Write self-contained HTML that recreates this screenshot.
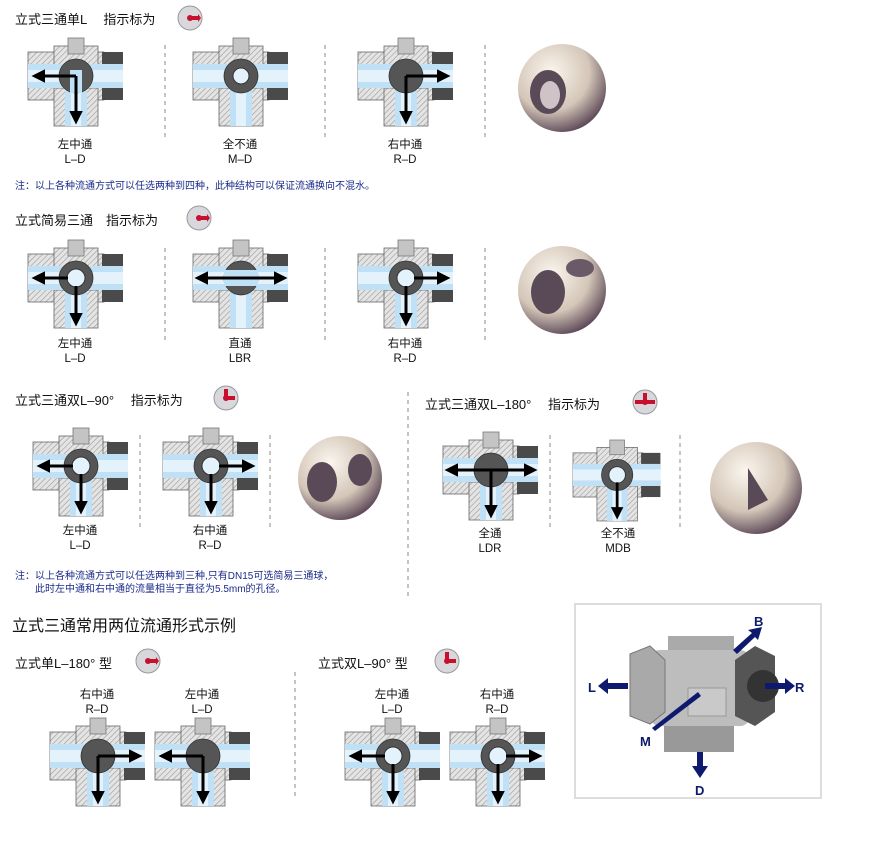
<!DOCTYPE html>
<html><head><meta charset="utf-8"><style>
body{margin:0;background:#fff;width:890px;height:858px;position:relative;overflow:hidden;font-family:"Liberation Sans","Noto Sans CJK SC",sans-serif;color:#111}
.t{position:absolute;white-space:nowrap}
.h{font-size:13px}
.lb{font-size:11.5px;text-align:center;line-height:15px;width:80px}
.n{font-size:10px;color:#1a2a8a;line-height:13px}
svg{position:absolute;left:0;top:0}
</style></head><body>
<svg width="890" height="858" viewBox="0 0 890 858">
<defs>
<pattern id="hp" width="4" height="4" patternUnits="userSpaceOnUse" patternTransform="rotate(45)"><rect width="4" height="4" fill="#e4e4e4"/><line x1="0" y1="0" x2="0" y2="4" stroke="#999" stroke-width="1.2"/></pattern>
<marker id="a" markerWidth="4.5" markerHeight="4.5" refX="3" refY="2.25" orient="auto-start-reverse" markerUnits="strokeWidth"><path d="M0,0 L4.5,2.25 L0,4.5z" fill="#000"/></marker>
<radialGradient id="sp" cx="0.38" cy="0.32" r="0.72"><stop offset="0" stop-color="#fbf6ee"/><stop offset="0.6" stop-color="#d4c6b8"/><stop offset="1" stop-color="#5a4656"/></radialGradient>
<g id="v">
<rect x="0" y="14" width="40" height="48" fill="url(#hp)" stroke="#666" stroke-width="0.8"/>
<rect x="56" y="14" width="20" height="48" fill="url(#hp)" stroke="#666" stroke-width="0.8"/>
<rect x="74" y="14" width="21" height="48" fill="#4a4a4a"/>
<rect x="26" y="8" width="44" height="24" fill="url(#hp)" stroke="#666" stroke-width="0.8"/>
<rect x="26" y="50" width="44" height="38" fill="url(#hp)" stroke="#666" stroke-width="0.8"/>
<rect x="0" y="26" width="95" height="24" fill="#bfe0f5"/>
<rect x="0" y="32" width="95" height="12" fill="#e3f2fb"/>
<rect x="37" y="50" width="22" height="38" fill="#bfe0f5"/>
<rect x="43" y="50" width="10" height="38" fill="#e3f2fb"/>
<rect x="40" y="0" width="16" height="16" fill="#c4c4c4" stroke="#777" stroke-width="0.8"/>
<circle cx="48" cy="38" r="17" fill="#555" stroke="#333" stroke-width="0.8"/>
</g>
<g id="ic"><circle r="12" fill="#d8d8dc" stroke="#999"/></g>
</defs>
<g fill="none" stroke="#000" stroke-width="3" marker-end="url(#a)">
<g transform="translate(28,38)"><use href="#v" stroke="none"/><path d="M42,32 H54 V55 H42z" fill="#bfe0f5" stroke="none" marker-end="none"/><path d="M48,38 H8"/><path d="M48,38 V82"/></g>
<g transform="translate(193,38)"><use href="#v" stroke="none"/><circle cx="48" cy="38" r="8" fill="#e3f2fb" stroke="#333" stroke-width="1" marker-end="none"/></g>
<g transform="translate(358,38)"><use href="#v" stroke="none"/><path d="M48,38 H88"/><path d="M48,38 V82"/></g>
<g transform="translate(28,240)"><use href="#v" stroke="none"/><circle cx="48" cy="38" r="9" fill="#e3f2fb" stroke="#333" stroke-width="1" marker-end="none"/><path d="M40,38 H8"/><path d="M48,46 V82"/></g>
<g transform="translate(193,240)"><use href="#v" stroke="none"/><rect x="31" y="30" width="34" height="16" fill="#bfe0f5" stroke="none" marker-end="none"/><path d="M48,38 H90"/><path d="M48,38 H6"/></g>
<g transform="translate(358,240)"><use href="#v" stroke="none"/><circle cx="48" cy="38" r="9" fill="#e3f2fb" stroke="#333" stroke-width="1" marker-end="none"/><path d="M56,38 H88"/><path d="M48,46 V82"/></g>
<g transform="translate(33,428)"><use href="#v" stroke="none"/><circle cx="48" cy="38" r="9" fill="#e3f2fb" stroke="#333" stroke-width="1" marker-end="none"/><path d="M40,38 H8"/><path d="M48,46 V82"/></g>
<g transform="translate(163,428)"><use href="#v" stroke="none"/><circle cx="48" cy="38" r="9" fill="#e3f2fb" stroke="#333" stroke-width="1" marker-end="none"/><path d="M56,38 H88"/><path d="M48,46 V82"/></g>
<g transform="translate(443,432)"><use href="#v" stroke="none"/><path d="M48,38 H90"/><path d="M48,38 H6"/><path d="M48,38 V82"/></g>
<g transform="translate(573,440) scale(0.92)"><use href="#v" stroke="none"/><circle cx="48" cy="38" r="9" fill="#e3f2fb" stroke="#333" stroke-width="1" marker-end="none"/><path d="M48,46 V82"/></g>
<g transform="translate(50,718)"><use href="#v" stroke="none"/><path d="M48,38 H88"/><path d="M48,38 V82"/></g>
<g transform="translate(155,718)"><use href="#v" stroke="none"/><path d="M48,38 H8"/><path d="M48,38 V82"/></g>
<g transform="translate(345,718)"><use href="#v" stroke="none"/><circle cx="48" cy="38" r="9" fill="#e3f2fb" stroke="#333" stroke-width="1" marker-end="none"/><path d="M40,38 H8"/><path d="M48,46 V82"/></g>
<g transform="translate(450,718)"><use href="#v" stroke="none"/><circle cx="48" cy="38" r="9" fill="#e3f2fb" stroke="#333" stroke-width="1" marker-end="none"/><path d="M56,38 H88"/><path d="M48,46 V82"/></g>
</g>
<g><circle cx="562" cy="88" r="44" fill="url(#sp)"/><ellipse cx="548" cy="92" rx="18" ry="22" fill="#5a4a58"/><ellipse cx="550" cy="95" rx="10" ry="14" fill="#cfc3c8"/>
<circle cx="562" cy="290" r="44" fill="url(#sp)"/><ellipse cx="548" cy="292" rx="17" ry="22" fill="#5a4a58"/><ellipse cx="580" cy="268" rx="14" ry="9" fill="#6a5a68"/>
<circle cx="340" cy="478" r="42" fill="url(#sp)"/><ellipse cx="322" cy="482" rx="15" ry="20" fill="#5a4a58"/><ellipse cx="360" cy="470" rx="12" ry="16" fill="#5a4a58"/>
<circle cx="756" cy="488" r="46" fill="url(#sp)"/><path d="M748,468 L768,500 L748,510 Z" fill="#5a4a58"/></g>
<g stroke="#888" stroke-width="1" stroke-dasharray="4,4">
<line x1="165" y1="45" x2="165" y2="140"/><line x1="325" y1="45" x2="325" y2="140"/><line x1="485" y1="45" x2="485" y2="140"/>
<line x1="165" y1="248" x2="165" y2="340"/><line x1="325" y1="248" x2="325" y2="340"/><line x1="485" y1="248" x2="485" y2="340"/>
<line x1="140" y1="435" x2="140" y2="530"/><line x1="270" y1="435" x2="270" y2="530"/>
<line x1="408" y1="392" x2="408" y2="600"/>
<line x1="550" y1="435" x2="550" y2="530"/><line x1="680" y1="435" x2="680" y2="530"/>
<line x1="295" y1="672" x2="295" y2="800"/>
</g>
<g fill="#c8102e">
<g transform="translate(190,18)"><use href="#ic"/><circle r="3"/><path d="M-1,-2 H8 V2 H-1z M8,-4 L11,0 L8,4z"/></g>
<g transform="translate(199,218)"><use href="#ic"/><circle r="3"/><path d="M-1,-2 H8 V2 H-1z M8,-4 L11,0 L8,4z"/></g>
<g transform="translate(226,398)"><use href="#ic"/><circle r="3"/><path d="M-2,1 V-9 H2 V1z M-1,-2 H9 V2 H-1z"/></g>
<g transform="translate(645,402)"><use href="#ic"/><circle r="3"/><path d="M-10,-2 H10 V2 H-10z M-2,1 V-9 H2 V1z"/></g>
<g transform="translate(148,661)"><use href="#ic"/><circle r="3"/><path d="M-1,-2 H8 V2 H-1z M8,-4 L11,0 L8,4z"/></g>
<g transform="translate(447,661)"><use href="#ic"/><circle r="3"/><path d="M-2,1 V-9 H2 V1z M-1,-2 H9 V2 H-1z"/></g>
</g>
<rect x="575" y="604" width="246" height="194" fill="#fff" stroke="#ddd" stroke-width="2"/>
<g>
<rect x="668" y="636" width="66" height="24" fill="#aaa"/>
<rect x="664" y="722" width="70" height="30" fill="#999"/>
<rect x="650" y="650" width="100" height="76" rx="10" fill="#bdbdbd"/>
<polygon points="630,654 650,646 665,660 665,712 650,724 630,716" fill="#a9a9a9" stroke="#777"/>
<polygon points="735,660 755,646 775,656 775,712 755,726 735,716" fill="#555"/>
<circle cx="763" cy="686" r="16" fill="#333"/>
<rect x="688" y="688" width="38" height="28" fill="#c9c9c9" stroke="#999"/>
</g>
<g fill="#0d1a6e">
<path d="M628,683 H608 V678 L598,686 L608,694 V689 H628z"/>
<path d="M765,683 H785 V678 L795,686 L785,694 V689 H765z"/>
<path d="M697,752 V766 H692 L700,778 L708,766 H703 V752z"/>
<path d="M733,650 L752,633 L748,630 L762,627 L758,640 L755,637 L737,654z"/>
<path d="M698,692 L652,728 L655,731 L701,696z"/>
</g>
<g font-family="Liberation Sans,sans-serif" font-weight="bold" font-size="13" fill="#0d1a6e">
<text x="588" y="692">L</text><text x="795" y="692">R</text><text x="754" y="626">B</text><text x="640" y="746">M</text><text x="695" y="795">D</text></g>
</svg>
<div class="t h" style="left:15px;top:9px">立式三通单L　 指示标为</div>
<div class="t lb" style="left:35px;top:138px">左中通<br>L–D</div>
<div class="t lb" style="left:200px;top:138px">全不通<br>M–D</div>
<div class="t lb" style="left:365px;top:138px">右中通<br>R–D</div>
<div class="t n" style="left:15px;top:180px">注：以上各种流通方式可以任选两种到四种，此种结构可以保证流通换向不混水。</div>
<div class="t h" style="left:15px;top:210px">立式简易三通　指示标为</div>
<div class="t lb" style="left:35px;top:337px">左中通<br>L–D</div>
<div class="t lb" style="left:200px;top:337px">直通<br>LBR</div>
<div class="t lb" style="left:365px;top:337px">右中通<br>R–D</div>
<div class="t h" style="left:15px;top:390px">立式三通双L–90°　 指示标为</div>
<div class="t h" style="left:425px;top:394px">立式三通双L–180°　 指示标为</div>
<div class="t lb" style="left:40px;top:524px">左中通<br>L–D</div>
<div class="t lb" style="left:170px;top:524px">右中通<br>R–D</div>
<div class="t lb" style="left:450px;top:527px">全通<br>LDR</div>
<div class="t lb" style="left:578px;top:527px">全不通<br>MDB</div>
<div class="t n" style="left:15px;top:570px">注：以上各种流通方式可以任选两种到三种,只有DN15可选简易三通球，<br>　　此时左中通和右中通的流量相当于直径为5.5mm的孔径。</div>
<div class="t" style="left:12px;top:612px;font-size:16px">立式三通常用两位流通形式示例</div>
<div class="t h" style="left:15px;top:653px">立式单L–180°  型</div>
<div class="t h" style="left:318px;top:653px">立式双L–90°  型</div>
<div class="t lb" style="left:57px;top:688px">右中通<br>R–D</div>
<div class="t lb" style="left:162px;top:688px">左中通<br>L–D</div>
<div class="t lb" style="left:352px;top:688px">左中通<br>L–D</div>
<div class="t lb" style="left:457px;top:688px">右中通<br>R–D</div>
</body></html>
